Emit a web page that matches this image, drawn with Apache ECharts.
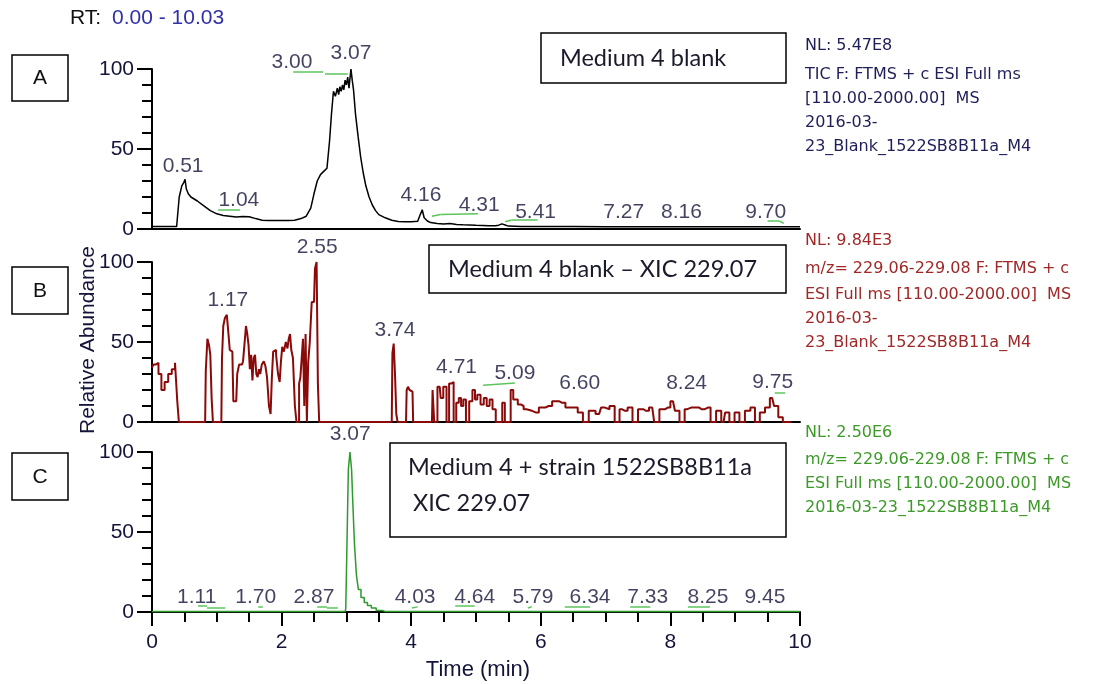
<!DOCTYPE html>
<html><head><meta charset="utf-8">
<script src="https://cdn.jsdelivr.net/npm/echarts@6/dist/echarts.min.js"></script>
<style>html,body{margin:0;padding:0;background:#fff}#c{width:1096px;height:684px}</style>
</head><body><div id="c"></div>
<script>
// ---------- Panel A : TIC (black) ----------
const aTime = [0,0.2,0.38,0.42,0.46,0.49,0.51,0.53,0.56,0.6,0.7,0.8,0.9,1.0,1.1,1.2,1.3,1.4,1.5,1.6,1.7,1.8,1.9,2.0,2.1,2.2,2.3,2.38,2.45,2.5,2.55,2.6,2.65,2.7,2.74,2.77,2.8,2.83,2.86,2.88,2.9,2.92,2.94,2.96,2.98,3.0,3.02,3.04,3.06,3.07,3.09,3.11,3.14,3.18,3.22,3.26,3.3,3.35,3.4,3.45,3.5,3.6,3.7,3.8,3.9,4.0,4.1,4.14,4.17,4.2,4.25,4.3,4.4,4.5,4.6,4.7,4.8,4.9,5.0,5.1,5.2,5.3,5.35,5.4,5.45,5.5,5.7,6.0,6.5,7.0,7.5,8.0,8.5,9.0,9.5,10.0];
const aValue = [1.5,1.5,1.5,20,27,29,31,25,22,20,17.5,14.5,11.5,9.5,8.5,8,7.5,7.8,7.6,6.5,5.5,5.3,5.3,5.3,5.3,5.5,6.5,8,13,22,30,34,36,38,55,72,86,83,88,84,89,86,90,87,93,90,95,88,96,100,93,87,72,58,45,35,27,20,15,11.5,9,7,5.5,4.7,4.5,4.5,4.8,9,12,7,5,4,3.5,3.2,3.4,2.8,2.6,2.5,2.3,2.2,2.0,2.0,2.4,3.2,2.5,1.8,1.6,1.5,1.5,1.4,1.4,1.4,1.4,1.4,1.4,1.4];
const aPeakLabel = ['0.51','1.04','3.00','3.07','4.16','4.31','5.41','7.27','8.16','9.70'];
const aPeakX = [0.48,1.34,2.16,3.07,4.15,5.05,5.92,7.28,8.17,9.47];
const aPeakY = [39,18,104,110,21,15,10.7,10.7,10.7,10.7];
const aMarks = [[1.02,11.9,1.36,11.9],[2.18,98,2.64,98],[2.67,97,3.02,97],[4.32,8,4.45,9],[4.45,9,5.03,9.5],[5.45,4.5,5.55,5.6],[5.55,5.6,5.95,5.6],[9.5,5,9.68,5],[9.68,5,9.75,3.5]];

// ---------- Panel B : XIC blank (dark red) ----------
const bTime = [0,0.05,0.08,0.12,0.17,0.22,0.28,0.33,0.38,0.40,0.43,0.82,0.84,0.87,0.89,0.91,0.93,0.95,1.07,1.09,1.11,1.14,1.17,1.19,1.21,1.24,1.27,1.30,1.33,1.36,1.39,1.42,1.44,1.46,1.48,1.50,1.52,1.54,1.56,1.58,1.60,1.62,1.64,1.66,1.68,1.71,1.74,1.76,1.79,1.82,1.84,1.86,1.88,1.90,1.93,1.96,1.98,2.00,2.02,2.05,2.08,2.10,2.12,2.14,2.16,2.19,2.22,2.24,2.26,2.28,2.30,2.32,2.34,2.36,2.38,2.40,2.42,2.45,2.48,2.50,2.53,2.55,2.57,2.59,3.70,3.72,3.74,3.76,3.78,3.80,3.92,3.94,3.96,3.99,4.02,4.04,4.32,4.34,4.37,4.44,4.47,4.52,4.57,4.60,4.64,4.67,4.72,4.75,4.79,4.82,4.87,4.92,4.97,5.00,5.04,5.10,5.14,5.19,5.23,5.28,5.33,5.38,5.43,5.46,5.52,5.55,5.60,5.69,5.72,5.75,5.81,5.92,6.02,6.12,6.23,6.33,6.43,6.53,6.61,6.69,6.79,6.90,6.96,7.02,7.10,7.18,7.25,7.30,7.38,7.45,7.55,7.62,7.72,7.78,7.88,7.96,8.04,8.10,8.18,8.26,8.32,8.41,8.48,8.58,8.66,8.75,8.82,8.87,8.95,9.03,9.10,9.20,9.27,9.34,9.42,9.50,9.57,9.63,9.70,9.77,9.83,9.89,9.95,10.0];
const bValue = [34,36,37,30,20,25,30,33,37,13,0,0,32,52,48,42,15,0,0,40,60,65,67,55,45,44,13,13,30,36,36,38,50,60,55,48,33,42,26,40,42,30,28,33,30,36,38,35,28,10,5,28,44,45,42,30,25,38,47,44,50,46,52,55,45,40,10,0,0,24,28,40,52,10,55,0,37,50,75,75,96,100,24,0,0,43,49,30,5,0,0,20,22,20,19,0,0,20,0,22,15,22,0,24,25,0,12,15,10,14,0,13,20,14,17,11,15,10,14,8,0,0,12,0,0,20,14,11,10,8,7,6,9,10,13,12,9,9,6,0,7,5,9,8,10,0,8,7,9,0,8,7,9,0,8,9,13,7,0,8,9,9,8,9,0,7,0,6,0,6,0,7,9,0,6,9,15,10,3,0,0];
const bPeakLabel = ['1.17','2.55','3.74','4.71','5.09','6.60','8.24','9.75'];
const bPeakX = [1.17,2.55,3.75,4.70,5.60,6.60,8.25,9.58];
const bPeakY = [76,109,57.5,34,30.6,24,24,25];
const bMarks = [[5.11,23,5.6,24.4],[9.61,18,9.77,18]];

// ---------- Panel C : XIC strain (green) ----------
const cTime = [0,1.0,2.0,2.98,3.0,3.02,3.04,3.07,3.09,3.11,3.14,3.17,3.2,3.25,3.3,3.35,3.42,3.5,3.6,5.0,7.0,10.0];
const cValue = [0.3,0.3,0.3,0.3,2,45,89,100,89,67,42,23,14,9,6,4,2.5,1,0.3,0.3,0.3,0.3];
const cPeakLabel = ['1.11','1.70','2.87','3.07','4.03','4.64','5.79','6.34','7.33','8.25','9.45'];
const cPeakX = [0.69,1.60,2.50,3.06,4.06,4.98,5.88,6.76,7.65,8.58,9.46];
const cPeakY = [9.4,9.4,9.4,111,9.4,9.4,9.4,9.4,9.4,9.4,9.4];
const cMarks = [[0.71,3.8,0.85,3.8],[0.85,2.5,1.13,2.5],[1.64,3,1.71,3],[2.55,3.5,2.7,3.5],[2.7,2.5,2.87,2.5],[4.01,2.5,4.1,3.2],[4.68,3.7,4.98,3.7],[5.8,2.5,5.86,3.3],[6.37,3.5,6.76,3.5],[7.38,3.5,7.69,3.5],[8.27,3.5,8.61,3.5]];

const xTicks = [0,2,4,6,8,10];

const FONT = '"Liberation Sans", Arial, sans-serif';
const numColor = '#14143a';
const zip = (xs, ys) => xs.map((x, i) => [x, ys[i]]);
const gridDefs = [{top:69},{top:262},{top:452}];

const grids = gridDefs.map(g => ({left:152, width:648, top:g.top, height:160}));
const xAxes = [0,1,2].map(i => ({
  gridIndex:i, type:'value', min:xTicks[0], max:xTicks[xTicks.length-1], interval:2,
  axisLine:{show:true, onZero:false, lineStyle:{color:'#000', width:2}},
  axisTick:{show:i===2, length:14, lineStyle:{color:'#000', width:2}},
  minorTick:{show:i===2, splitNumber:4, length:10, lineStyle:{color:'#000', width:2}},
  axisLabel:{show:i===2, fontSize:21, fontFamily:FONT, color:numColor, margin:20},
  splitLine:{show:false}, minorSplitLine:{show:false}
}));
const yAxes = [0,1,2].map(i => ({
  gridIndex:i, type:'value', min:0, max:100, interval:50,
  axisLine:{show:true, lineStyle:{color:'#000', width:2}},
  axisTick:{show:true, length:15, lineStyle:{color:'#000', width:2}},
  minorTick:{show:true, splitNumber:5, length:10, lineStyle:{color:'#000', width:2}},
  axisLabel:{fontSize:21, fontFamily:FONT, color:numColor, margin:18},
  splitLine:{show:false}
}));

function traceSeries(i, data, color, step, w){
  return {type:'line', xAxisIndex:i, yAxisIndex:i, data:data, showSymbol:false, symbol:'none',
    step: step || false, lineStyle:{color:color, width:w || 1.5}, clip:false, z:3};
}
function labelSeries(i, xs, ys, names, marks){
  return {type:'scatter', xAxisIndex:i, yAxisIndex:i, symbolSize:0, clip:false, z:5,
    data: xs.map((x,k) => ({name:names[k], value:[x, ys[k]]})),
    label:{show:true, position:'inside', formatter:'{b}', fontSize:21, fontFamily:FONT, color:numColor},
    markLine:{silent:true, symbol:'none', animation:false,
      lineStyle:{color:'#5cc45c', width:1.5, type:'solid'}, label:{show:false},
      data: marks.map(m => [{coord:[m[0],m[1]]},{coord:[m[2],m[3]]}])}
  };
}

const series = [
  traceSeries(0, zip(aTime, aValue), '#000000', false, 1.5),
  traceSeries(1, zip(bTime, bValue), '#8a0a0a', 'middle', 2),
  traceSeries(2, zip(cTime, cValue), '#2e9a2e', 'middle', 1.5),
  labelSeries(0, aPeakX, aPeakY, aPeakLabel, aMarks),
  labelSeries(1, bPeakX, bPeakY, bPeakLabel, bMarks),
  labelSeries(2, cPeakX, cPeakY, cPeakLabel, cMarks)
];

const infoA = ['NL: 5.47E8','TIC F: FTMS + c ESI Full ms','[110.00-2000.00]  MS','2016-03-','23_Blank_1522SB8B11a_M4'];
const infoB = ['NL: 9.84E3','m/z= 229.06-229.08 F: FTMS + c','ESI Full ms [110.00-2000.00]  MS','2016-03-','23_Blank_1522SB8B11a_M4'];
const infoC = ['NL: 2.50E6','m/z= 229.06-229.08 F: FTMS + c','ESI Full ms [110.00-2000.00]  MS','2016-03-23_1522SB8B11a_M4'];

const graphics = [];
function txt(text, x, y, size, fill, family, align){
  graphics.push({type:'text', x:x, y:y, silent:true, style:{text:text, fill:fill, fontSize:size, fontFamily:family||FONT, align:align||'left', verticalAlign:'middle'}});
}
function box(x, y, w, h){
  graphics.push({type:'rect', silent:true, shape:{x:x, y:y, width:w, height:h}, style:{fill:'none', stroke:'#000', lineWidth:1.5}});
}
const infoY = [[46,75,99,123,147],[241,269,295,319,343],[433,460,484,508]];
[infoA, infoB, infoC].forEach((lines, p) => {
  const col = ['#1e1e5a','#a02828','#3c9a28'][p];
  lines.forEach((t, k) => txt(t, 805, infoY[p][k], 16, col, '"DejaVu Sans", sans-serif'));
});
// RT header
txt('RT:', 70, 18, 21, '#111');
txt('0.00 - 10.03', 112, 18, 21, '#3030a8');
// panel letters
box(12,55,56,46); txt('A', 40, 78, 21, '#111', FONT, 'center');
box(12,267,56,47); txt('B', 40, 291, 21, '#111', FONT, 'center');
box(12,453,56,47); txt('C', 40, 477, 21, '#111', FONT, 'center');
// title boxes
box(541,33,245,50); txt('Medium 4 blank', 560, 58, 23.5, '#1a1a2a', 'Lato, sans-serif');
box(429,245,357,48); txt('Medium 4 blank \u2013 XIC 229.07', 448, 269, 23.5, '#1a1a2a', 'Lato, sans-serif');
box(390,443,396,94); txt('Medium 4 + strain 1522SB8B11a', 408, 467, 23.5, '#1a1a2a', 'Lato, sans-serif');
txt('XIC 229.07', 413, 503, 23.5, '#1a1a2a', 'Lato, sans-serif');
// axis titles
txt('Time (min)', 478, 670, 22, numColor, FONT, 'center');
graphics.push({type:'text', x:88, y:340, rotation:Math.PI/2, silent:true,
  style:{text:'Relative Abundance', fill:numColor, fontSize:21, fontFamily:FONT, align:'center', verticalAlign:'middle'}});

const chart = echarts.init(document.getElementById('c'), null, {renderer:'canvas'});
chart.setOption({
  animation:false, backgroundColor:'#fff',
  grid:grids, xAxis:xAxes, yAxis:yAxes, series:series, graphic:graphics
});
</script></body></html>
